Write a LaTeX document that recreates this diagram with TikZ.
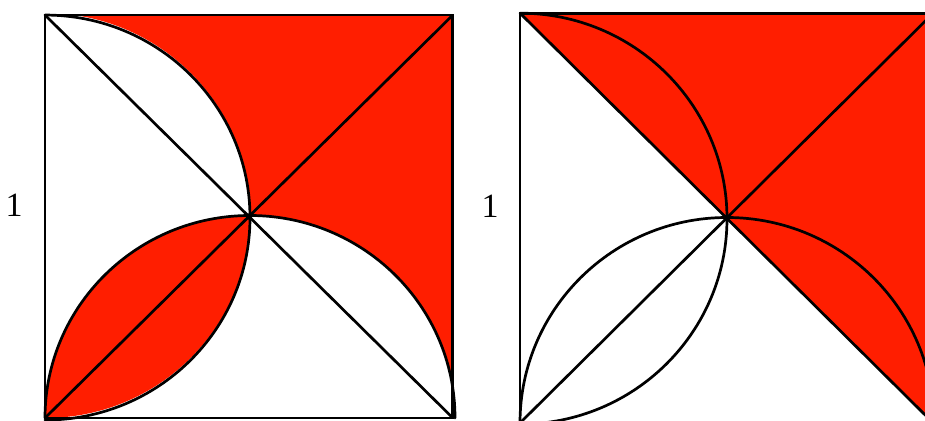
\documentclass[tikz,border=0pt]{standalone}
\usepackage{fontspec}
\setmainfont{Liberation Serif}
\definecolor{fillred}{RGB}{255,30,0}
\tikzset{
  edge/.style={line width=2.7pt, line join=round, line cap=round},
  lbl/.style={font=\fontsize{34}{34}\selectfont, inner sep=0pt}
}
\begin{document}
\begin{tikzpicture}[x=1pt,y=1pt]
\clip (0,0) rectangle (925,420);
\useasboundingbox (0,0) rectangle (925,420);
% ---------- left figure ----------
\begin{scope}[shift={(45,2)}, xscale=410, yscale=405]
  \coordinate (LA) at (0,1); \coordinate (LB) at (0,0);
  \coordinate (LC) at (1,0); \coordinate (LD) at (1,1);
  \coordinate (LO) at (0.5,0.5);
  \begin{scope}
    \clip (LB) rectangle (LD);
    \fill[fillred, even odd rule] (LB) rectangle (LD)
      (0,0.5) circle[radius=0.5] (0.5,0) circle[radius=0.5];
  \end{scope}
  \draw[edge] (LB) rectangle (LD);
  \draw[edge] (LA) -- (LC);
  \draw[edge] (LB) -- (LD);
  \draw[edge] (LA) arc[start angle=90, end angle=-90, radius=0.5];
  \draw[edge] (LB) arc[start angle=180, end angle=0, radius=0.5];
  \fill (LO) circle[radius=0.008];
\end{scope}
\node[lbl] (l1) at (14,215) {1};
% ---------- right figure ----------
\begin{scope}[shift={(520,-3)}, xscale=414, yscale=411]
  \coordinate (RA) at (0,1); \coordinate (RB) at (0,0);
  \coordinate (RC) at (1,0); \coordinate (RD) at (1,1);
  \coordinate (RO) at (0.5,0.5);
  \fill[fillred] (RA) -- (RD) -- (RC) -- cycle;
  \draw[edge] (RB) rectangle (RD);
  \draw[edge] (RA) -- (RC);
  \draw[edge] (RB) -- (RD);
  \draw[edge] (RA) arc[start angle=90, end angle=-90, radius=0.5];
  \draw[edge] (RB) arc[start angle=180, end angle=0, radius=0.5];
  \fill (RO) circle[radius=0.008];
\end{scope}
\node[lbl] (r1) at (490,214) {1};
\end{tikzpicture}
\end{document}
